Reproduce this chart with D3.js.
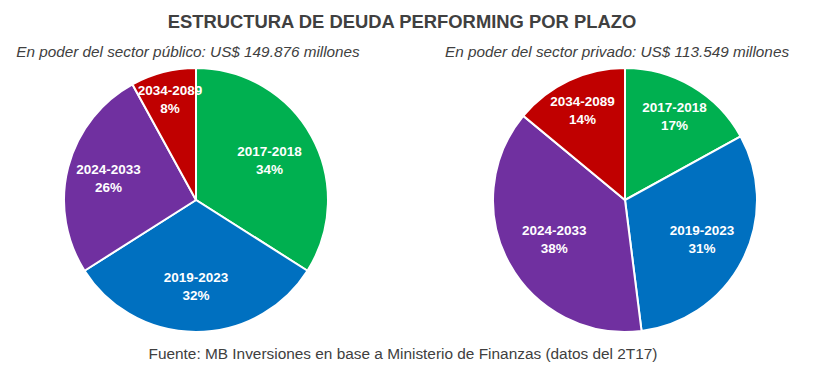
<!DOCTYPE html>
<html>
<head>
<meta charset="utf-8">
<script src="https://cdn.jsdelivr.net/npm/d3@7"></script>
<style>
  body { margin: 0; background: #fff; }
  svg text { font-family: "Liberation Sans", Arial, Helvetica, sans-serif; }
</style>
</head>
<body>
<div id="chart"></div>
<script>
// Plazos (categorías) y colores de cada tramo
var plazos = ["2017-2018", "2019-2023", "2024-2033", "2034-2089"];
var colores = ["#00b050", "#0070c0", "#7030a0", "#c00000"];

// Porcentaje de cada tramo por tenedor
var publico = [34, 32, 26, 8];
var privado = [17, 31, 38, 14];

var subtitulos = [
    "En poder del sector público: US$ 149.876 millones",
    "En poder del sector privado: US$ 113.549 millones"
];

var width = 823, height = 372;
var radius = 132;

var svg = d3.select("#chart")
    .append("svg")
    .attr("width", width)
    .attr("height", height);

// Título
svg.append("text")
    .attr("x", 402)
    .attr("y", 28)
    .attr("text-anchor", "middle")
    .style("font-size", "18.4px")
    .style("font-weight", "bold")
    .style("fill", "#404040")
    .text("ESTRUCTURA DE DEUDA PERFORMING POR PLAZO");

// Fuente
svg.append("text")
    .attr("x", 403)
    .attr("y", 359)
    .attr("text-anchor", "middle")
    .style("font-size", "15.4px")
    .style("fill", "#404040")
    .text("Fuente: MB Inversiones en base a Ministerio de Finanzas (datos del 2T17)");

var pie = d3.pie().sort(null).value(function (d) { return d; });
var arc = d3.arc().innerRadius(0).outerRadius(radius);

function drawPie(valores, cx, subtitulo, subX) {

    svg.append("text")
        .attr("x", subX)
        .attr("y", 57)
        .attr("text-anchor", "middle")
        .style("font-size", "15.3px")
        .style("font-style", "italic")
        .style("fill", "#404040")
        .text(subtitulo);

    var g = svg.append("g")
        .attr("transform", "translate(" + cx + "," + 200 + ")");

    var arcs = pie(valores);

    g.selectAll("path")
        .data(arcs)
        .enter()
        .append("path")
        .attr("d", arc)
        .attr("fill", function (d, i) { return colores[i]; })
        .attr("stroke", "#fff")
        .attr("stroke-width", 2);

    // Etiquetas: los tramos chicos van más afuera
    var labels = g.selectAll("text.lbl")
        .data(arcs)
        .enter()
        .append("text")
        .attr("class", "lbl")
        .attr("transform", function (d) {
            var lr = radius * (0.84 - 0.006 * d.data);
            var a = (d.startAngle + d.endAngle) / 2;
            return "translate(" + (Math.sin(a) * lr) + "," + (-Math.cos(a) * lr) + ")";
        })
        .attr("text-anchor", "middle")
        .style("font-size", "13.5px")
        .style("font-weight", "bold")
        .style("fill", "#fff");

    labels.append("tspan")
        .attr("x", 0)
        .attr("y", -4)
        .text(function (d, i) { return plazos[i]; });

    labels.append("tspan")
        .attr("x", 0)
        .attr("y", 14)
        .text(function (d) { return d.data + "%"; });
}

drawPie(publico, 196, subtitulos[0], 188);
drawPie(privado, 625, subtitulos[1], 617);
</script>
</body>
</html>
